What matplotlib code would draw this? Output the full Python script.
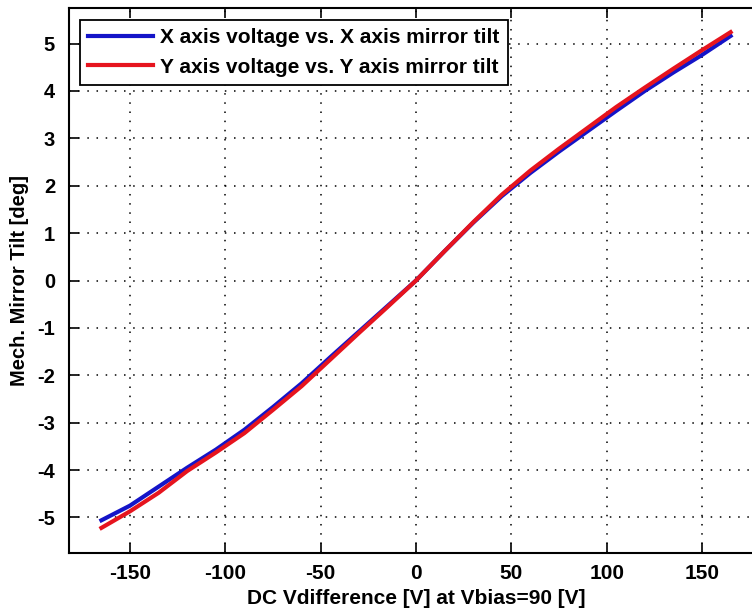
import matplotlib
matplotlib.use('Agg')
import matplotlib.pyplot as plt

# mirror tilt vs DC voltage difference
volts = [-165, -150, -135, -120, -105, -90, -75, -60, -45, -30, -15, 0,
         15, 30, 45, 60, 75, 90, 105, 120, 135, 150, 165]
tilt_x = [-5.06, -4.75, -4.35, -3.95, -3.57, -3.15, -2.67, -2.17, -1.62, -1.08, -0.54, 0.0,
          0.62, 1.22, 1.78, 2.27, 2.72, 3.15, 3.58, 4.00, 4.39, 4.76, 5.16]
tilt_y = [-5.22, -4.87, -4.48, -4.02, -3.63, -3.22, -2.73, -2.23, -1.67, -1.11, -0.56, 0.0,
          0.62, 1.23, 1.81, 2.32, 2.78, 3.22, 3.66, 4.07, 4.47, 4.86, 5.24]
xticks = [-150, -100, -50, 0, 50, 100, 150]
yticks = [-5, -4, -3, -2, -1, 0, 1, 2, 3, 4, 5]

plt.rcParams['font.family'] = ['Liberation Sans', 'DejaVu Sans']
plt.rcParams['font.weight'] = 'bold'
plt.rcParams['axes.labelweight'] = 'bold'
plt.rcParams['axes.unicode_minus'] = False

fig = plt.figure(figsize=(7.52, 6.15), dpi=100)
# axes run past the right edge, like the cropped original
ax = fig.add_axes([69 / 752, 62 / 615, 694 / 752, 545 / 615])

ax.plot(volts, tilt_x, color='#1414c8', lw=3, label='X axis voltage vs. X axis mirror tilt')
ax.plot(volts, tilt_y, color='#e6141e', lw=3, label='Y axis voltage vs. Y axis mirror tilt')

ax.set_xlim(-182, 182)
ax.set_ylim(-5.75, 5.75)
ax.set_xticks(xticks)
ax.set_yticks(yticks)
ax.grid(True, ls=(0, (1, 5)), color='k', lw=1.1)
ax.tick_params(direction='in', top=True, right=True, length=7, width=1.2)
ax.tick_params(axis='x', labelsize=15, pad=8)
ax.tick_params(axis='y', labelsize=14.5, pad=10)
for s in ax.spines.values():
    s.set_linewidth(1.5)

ax.set_xlabel('DC Vdifference [V] at Vbias=90 [V]', fontsize=15, fontweight='bold', labelpad=4)
ax.set_ylabel('Mech. Mirror Tilt [deg]', fontsize=14.5, fontweight='bold', labelpad=6)

leg = ax.legend(loc='upper left', bbox_to_anchor=(11 / 694, 1 - 12 / 545),
                prop={'size': 15, 'weight': 'bold'},
                fancybox=False, edgecolor='k', framealpha=1, handlelength=3.1,
                handletextpad=0.35, borderpad=0.4, labelspacing=0.5, borderaxespad=0)
leg.get_frame().set_linewidth(1.3)

fig.savefig('out.png', dpi=100)
